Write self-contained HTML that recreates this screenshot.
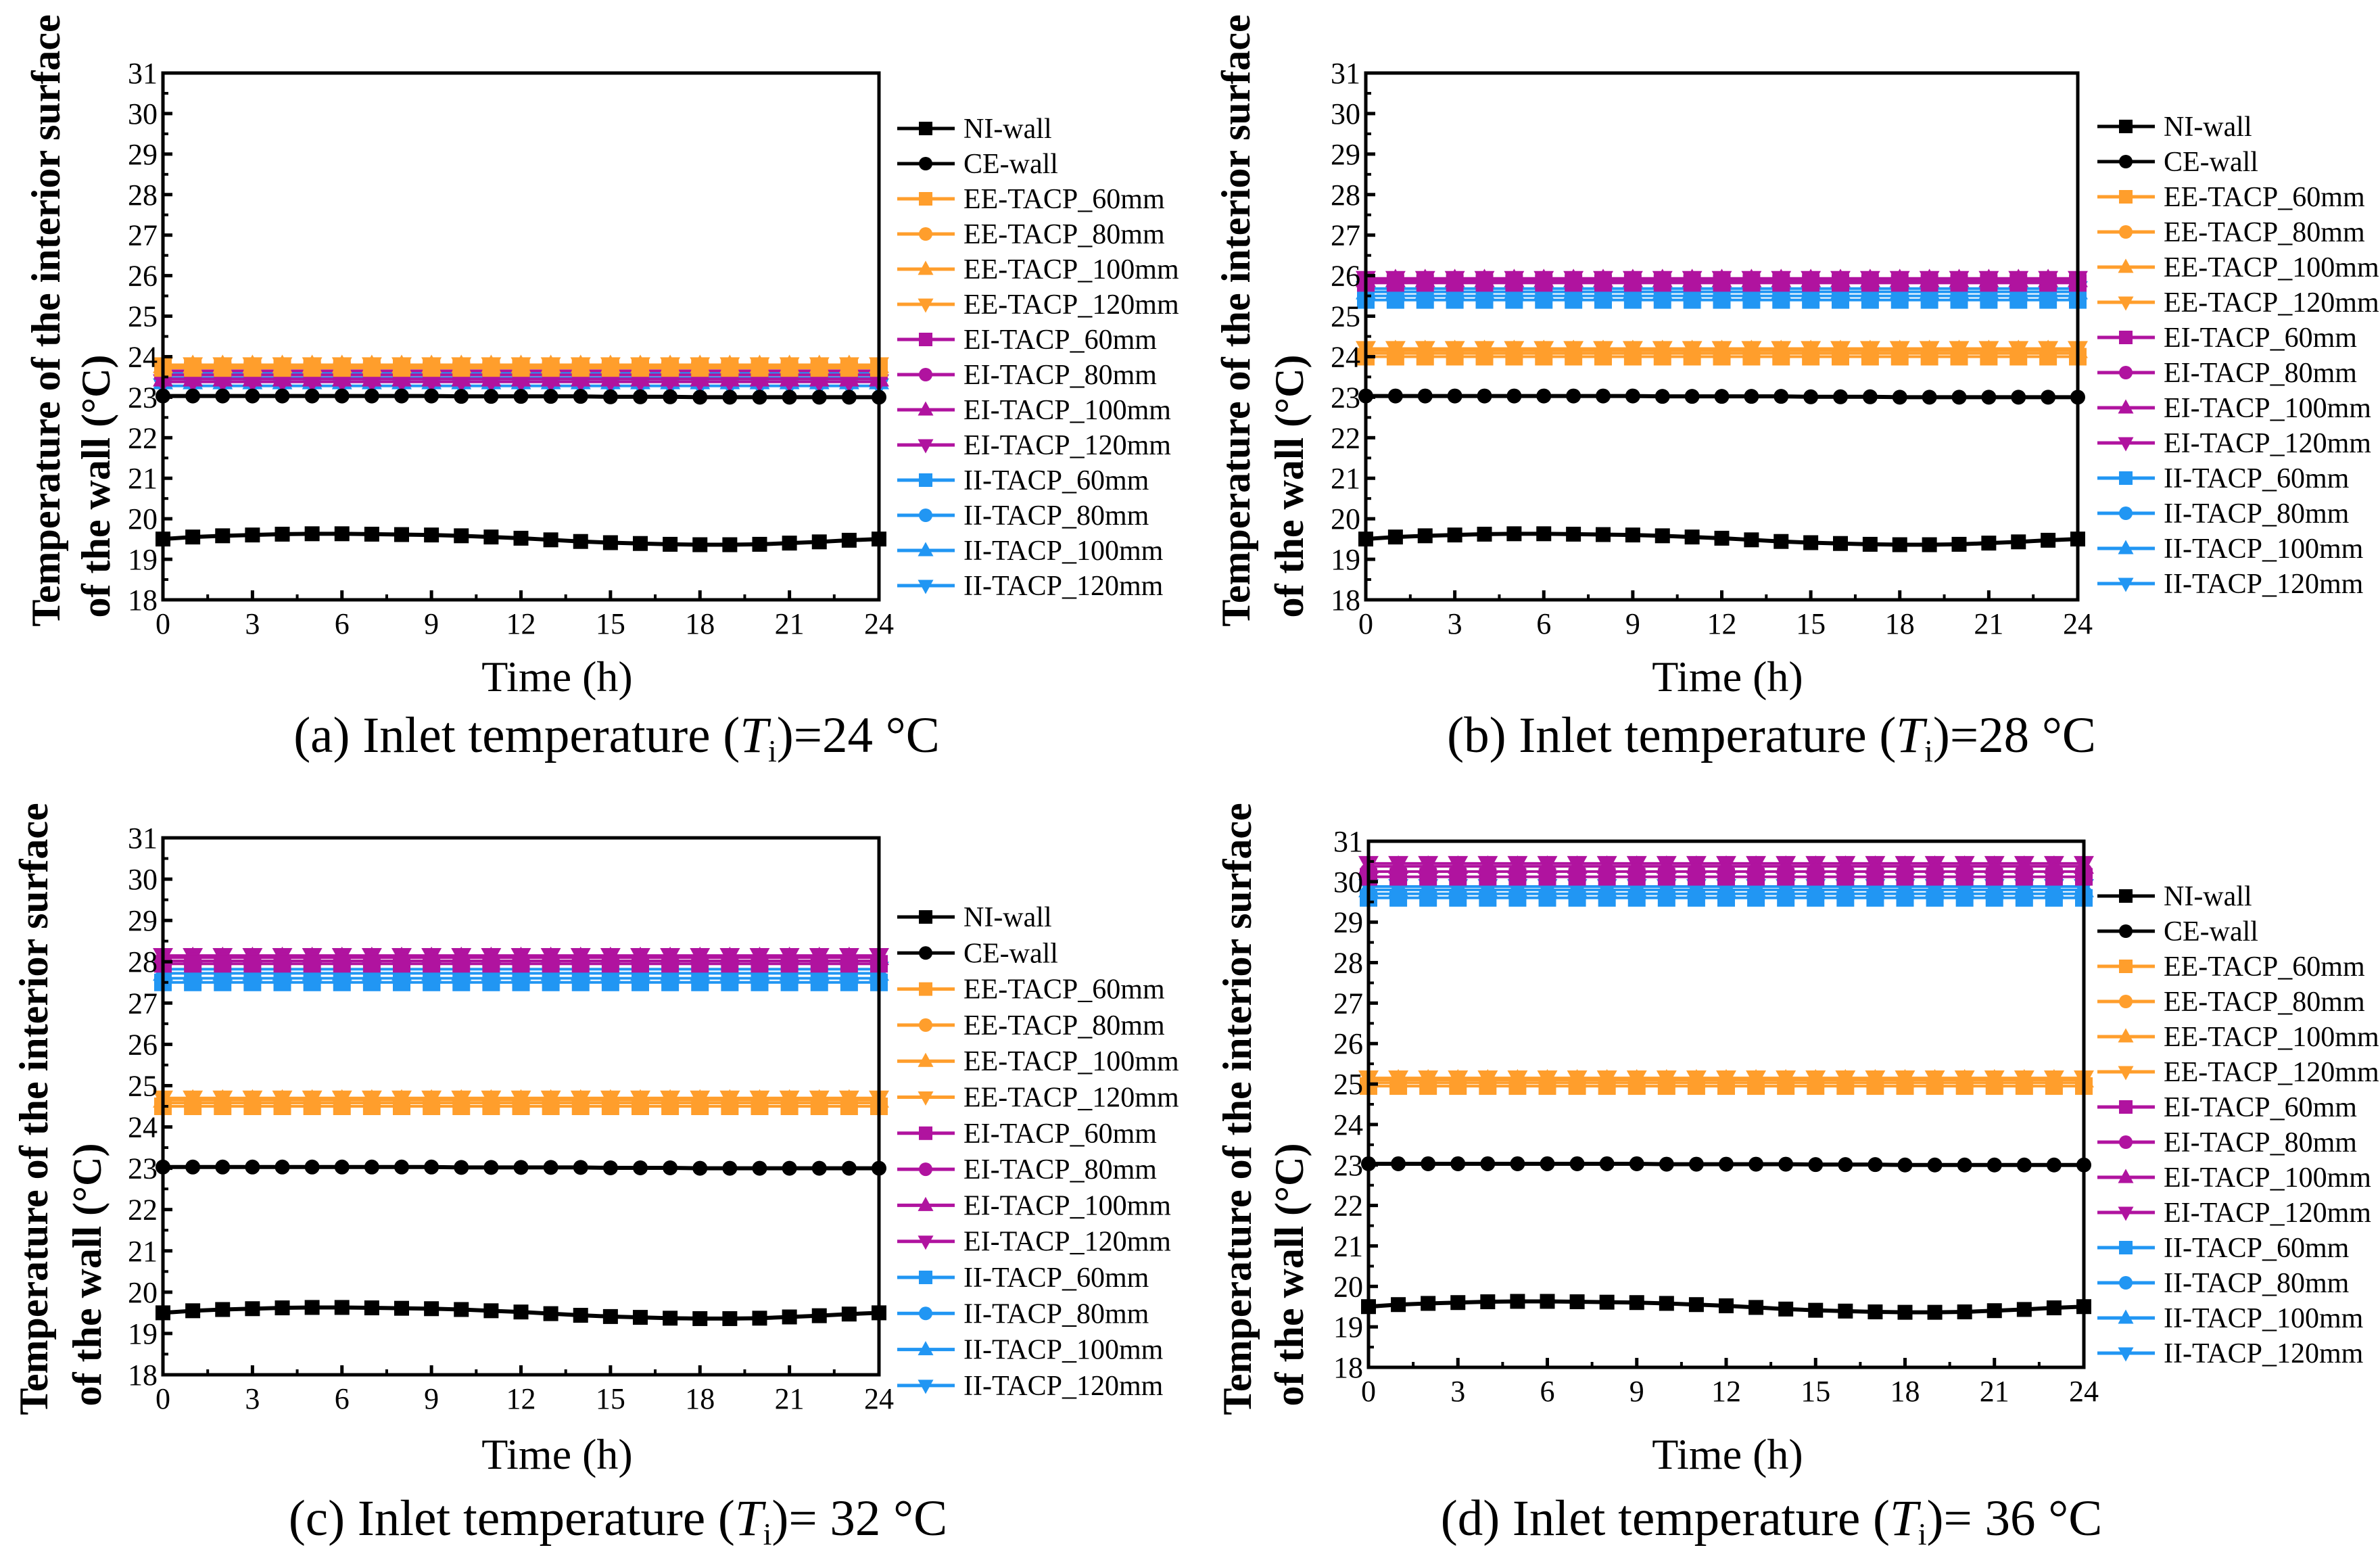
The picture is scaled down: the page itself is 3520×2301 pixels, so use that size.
<!DOCTYPE html>
<html><head><meta charset="utf-8">
<style>
html,body{margin:0;padding:0;background:#fff;}
svg{display:block;}
text{font-family:"Liberation Serif",serif;fill:#000;}
</style></head>
<body>
<svg id="fig" width="3520" height="2301" viewBox="0 0 3520 2301" xmlns="http://www.w3.org/2000/svg"></svg>
<script>
// ---- data ----
const hours = [0,1,2,3,4,5,6,7,8,9,10,11,12,13,14,15,16,17,18,19,20,21,22,23,24];
const yTicks = [18,19,20,21,22,23,24,25,26,27,28,29,30,31];
const xTicks = [0,3,6,9,12,15,18,21,24];
const seriesNames = ["NI-wall","CE-wall","EE-TACP_60mm","EE-TACP_80mm","EE-TACP_100mm","EE-TACP_120mm","EI-TACP_60mm","EI-TACP_80mm","EI-TACP_100mm","EI-TACP_120mm","II-TACP_60mm","II-TACP_80mm","II-TACP_100mm","II-TACP_120mm"];
const niWall = [19.5,19.55,19.58,19.6,19.62,19.63,19.63,19.62,19.61,19.6,19.58,19.55,19.52,19.48,19.44,19.41,19.39,19.37,19.36,19.36,19.37,19.4,19.43,19.47,19.5];
const ceWall = [23.03,23.03,23.03,23.03,23.03,23.03,23.03,23.03,23.03,23.03,23.02,23.02,23.02,23.02,23.02,23.01,23.01,23.01,23.0,23.0,23.0,23.0,23.0,23.0,23.0];
// constant levels per panel: EE 60/80/100/120, EI 60/80/100/120, II 60/80/100/120
const levelsA = [23.72,23.74,23.78,23.8, 23.65,23.55,23.45,23.38, 23.6,23.48,23.38,23.28];
const levelsB = [24.0,24.08,24.15,24.2, 25.82,25.86,25.9,25.93, 25.4,25.5,25.6,25.68];
const levelsC = [24.5,24.58,24.65,24.7, 27.95,28.02,28.1,28.15, 27.5,27.6,27.72,27.82];
const levelsD = [24.95,25.03,25.1,25.15, 30.12,30.25,30.38,30.45, 29.6,29.7,29.8,29.88];
const titles = ["(a) Inlet temperature (","(b) Inlet temperature (","(c) Inlet temperature (","(d) Inlet temperature ("];
const titleTails = [")=24 °C",")=28 °C",")= 32 °C",")= 36 °C"];

// ---- layout ----
const panels = [
 {id:"a",L:241,R:1300,T:108,B:887,lx:1327,ly:190,ls:52,levels:levelsA,ytx:[68,142],yc:474,xl:824,xly:1022,tc:912,ty:1112},
 {id:"b",L:2020,R:3073,T:108,B:887,lx:3102,ly:187,ls:52,levels:levelsB,ytx:[1828,1907],yc:474,xl:2555,xly:1022,tc:2620,ty:1112},
 {id:"c",L:241,R:1300,T:1239,B:2033,lx:1327,ly:1356,ls:53.3,levels:levelsC,ytx:[50,129],yc:1640,xl:824,xly:2172,tc:914,ty:2270},
 {id:"d",L:2024,R:3082,T:1244,B:2022,lx:3102,ly:1325,ls:52,levels:levelsD,ytx:[1830,1907],yc:1640,xl:2555,xly:2172,tc:2620,ty:2270}
];
const colors = ["#000","#000","#FF9E2C","#FF9E2C","#FF9E2C","#FF9E2C","#B0139F","#B0139F","#B0139F","#B0139F","#2196F3","#2196F3","#2196F3","#2196F3"];
const markers = ["sq","ci","sq","ci","tu","td","sq","ci","tu","td","sq","ci","tu","td"];
const NS="http://www.w3.org/2000/svg";
const svg=document.getElementById("fig");
function mk(tag,attrs,parent){const e=document.createElementNS(NS,tag);for(const k in attrs)e.setAttribute(k,attrs[k]);(parent||svg).appendChild(e);return e;}
function marker(shape,x,y,s,c,g){
  let e;
  if(shape==="sq") e=mk("rect",{x:x-s,y:y-s,width:2*s,height:2*s,fill:c},g);
  else if(shape==="ci") e=mk("circle",{cx:x,cy:y,r:s,fill:c},g);
  else if(shape==="tu") e=mk("polygon",{points:`${x},${y-s*1.25} ${x-s*1.15},${y+s*0.85} ${x+s*1.15},${y+s*0.85}`,fill:c},g);
  else e=mk("polygon",{points:`${x},${y+s*1.25} ${x-s*1.15},${y-s*0.85} ${x+s*1.15},${y-s*0.85}`,fill:c},g);
  
  
  return e;
}
panels.forEach((p,pi)=>{
  const g=mk("g",{});
  
  
  const xs=v=>p.L+(v-0)/24*(p.R-p.L);
  const ys=v=>p.B-(v-18)/13*(p.B-p.T);
  const all=[niWall,ceWall];
  p.levels.forEach(l=>all.push(hours.map(()=>l)));
  for(let si=all.length-1;si>=0;si--){
    const vals=all[si];
    const sg=mk("g",{},g);
    
    
    const pts=hours.map((h,i)=>xs(h)+","+ys(vals[i])).join(" ");
    const pl=mk("polyline",{points:pts,fill:"none",stroke:colors[si],"stroke-width":si<2?6:4},sg);
    
    
    hours.forEach((h,i)=>marker(markers[si],xs(h),ys(vals[i]),si<2?11:13,colors[si],sg));
  }
  const box=mk("rect",{x:p.L,y:p.T,width:p.R-p.L,height:p.B-p.T,fill:"none",stroke:"#000","stroke-width":5},g);
  
  
  yTicks.forEach(v=>{
    mk("line",{x1:p.L,x2:p.L+14,y1:ys(v),y2:ys(v),stroke:"#000","stroke-width":5},g);
    if(v<31) mk("line",{x1:p.L,x2:p.L+8,y1:ys(v+0.5),y2:ys(v+0.5),stroke:"#000","stroke-width":4},g);
    const t=mk("text",{x:p.L-8,y:ys(v)+15,"text-anchor":"end","font-size":44},g);
    t.textContent=v;
    
    
  });
  xTicks.forEach(v=>{
    mk("line",{x1:xs(v),x2:xs(v),y1:p.B,y2:p.B-14,stroke:"#000","stroke-width":5},g);
    if(v<24) mk("line",{x1:xs(v+1.5),x2:xs(v+1.5),y1:p.B,y2:p.B-8,stroke:"#000","stroke-width":4},g);
    const t=mk("text",{x:xs(v),y:p.B+50,"text-anchor":"middle","font-size":44},g);
    t.textContent=v;
    
    
  });
  const xl=mk("text",{x:p.xl,y:p.xly,"text-anchor":"middle","font-size":64},g);
  xl.textContent="Time (h)";
  
  
  const yl1=mk("text",{x:0,y:0,"text-anchor":"middle","font-size":60,"font-weight":"bold",transform:`translate(${p.ytx[0]+20},${p.yc}) rotate(-90)`},g);
  yl1.textContent="Temperature of the interior surface";
  
  
  const yl2=mk("text",{x:0,y:0,"text-anchor":"middle","font-size":60,"font-weight":"bold",transform:`translate(${p.ytx[1]+20},${p.yc+245}) rotate(-90)`},g);
  yl2.textContent="of the wall (°C)";
  
  
  const tt=mk("text",{x:p.tc,y:p.ty,"text-anchor":"middle","font-size":75},g);
  
  
  const s1=mk("tspan",{},tt);s1.textContent=titles[pi];
  const s2=mk("tspan",{"font-style":"italic"},tt);s2.textContent="T";
  const s3=mk("tspan",{"font-size":46,dy:14},tt);s3.textContent="i";
  const s4=mk("tspan",{dy:-14},tt);s4.textContent=titleTails[pi];
  const lg=mk("g",{},g);
  
  
  seriesNames.forEach((n,i)=>{
    const y=p.ly+i*p.ls;
    const e=mk("g",{},lg);
    
    
    mk("line",{x1:p.lx,x2:p.lx+85,y1:y,y2:y,stroke:colors[i],"stroke-width":5},e);
    marker(markers[i],p.lx+42,y,10,colors[i],e);
    const t=mk("text",{x:p.lx+98,y:y+14,"font-size":42},e);
    t.textContent=n;
  });
});
</script>
</body></html>
